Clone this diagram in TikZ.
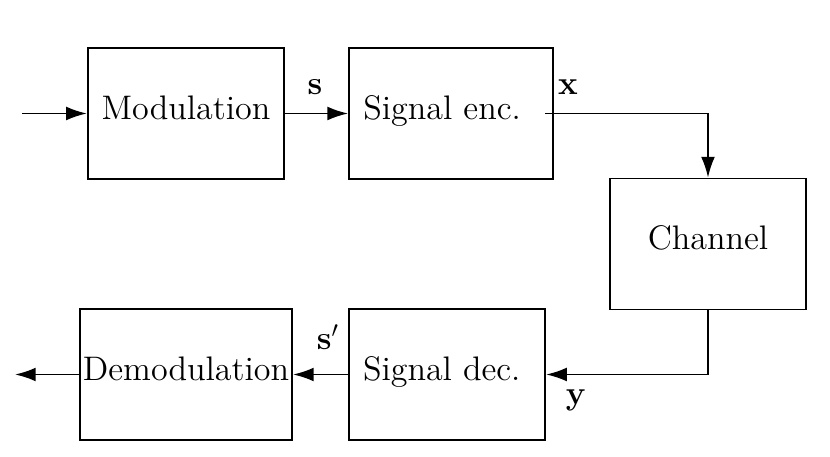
\documentclass[tikz,border=0pt]{standalone}
\usetikzlibrary{arrows.meta}
\begin{document}
\begin{tikzpicture}[x=0.015267cm,y=-0.015267cm,line width=0.8pt,
  blockbox/.style={draw,minimum width=3cm,minimum height=2cm,inner sep=0pt,font=\fontsize{14.8}{18}\selectfont,text height=10.5pt,text depth=5.5pt},
  conn/.style={-{Latex[length=9pt,width=6pt]}},
  lab/.style={font=\fontsize{14.8}{18}\selectfont}]
\useasboundingbox (0,0) rectangle (830,457);
\node[blockbox] (mod) at (186,113.5) {Modulation};
\node[blockbox,minimum width=3.115cm] (enc) at (451,113.5) {Signal enc.\hspace*{0.27cm}};
\node[blockbox] (chan) at (708,244) {Channel};
\node[blockbox] (dec) at (447,374.5) {Signal dec.\hspace*{0.16cm}};
\node[blockbox,minimum width=3.24cm] (demod) at (186,374.5) {Demodulation};
\coordinate (in) at (22,113.5);
\coordinate (out) at (15,374.5);
\coordinate (encout) at (545,113.5);
\draw[conn] (in) -- (mod.west);
\draw[conn] (mod.east) -- (enc.west);
\draw[conn] (encout) -| (chan.north);
\draw[conn] (chan.south) |- (dec.east);
\draw[conn] (dec.west) -- (demod.east);
\draw[conn] (demod.west) -- (out);
\node[lab] (ls) at (315,87) {$\mathbf{s}$};
\node[lab] (lx) at (568,87) {$\mathbf{x}$};
\node[lab] (ly) at (576,400) {$\mathbf{y}$};
\node[lab] (lsp) at (328,337) {$\mathbf{s}'$};
\end{tikzpicture}
\end{document}
